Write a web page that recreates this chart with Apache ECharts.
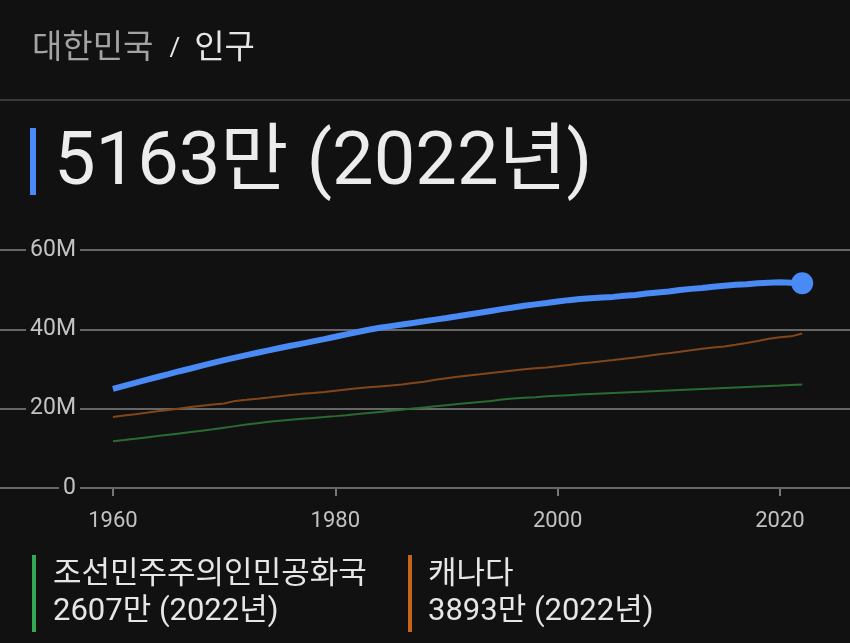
<!DOCTYPE html>
<html><head><meta charset="utf-8">
<script src="https://cdn.jsdelivr.net/npm/echarts@6/dist/echarts.min.js"></script>
<style>html,body{margin:0;padding:0;background:#111111;}#c{width:850px;height:643px;}</style>
</head><body><div id="c"></div>
<script>
const years = [];
for (let y = 1960; y <= 2022; y++) years.push(y);
// Population in millions
const southKorea = [25.01,25.77,26.51,27.26,27.98,28.70,29.44,30.13,30.84,31.54,
32.24,32.88,33.51,34.10,34.69,35.28,35.85,36.41,36.97,37.53,
38.12,38.72,39.33,39.91,40.41,40.81,41.21,41.62,42.03,42.45,
42.87,43.30,43.75,44.19,44.64,45.09,45.52,45.95,46.29,46.62,
47.01,47.36,47.62,47.86,48.04,48.18,48.44,48.68,49.05,49.31,
49.55,49.94,50.20,50.43,50.75,51.01,51.22,51.36,51.59,51.76,
51.84,51.77,51.63];
const canada = [17.91,18.27,18.61,18.96,19.33,19.68,20.05,20.41,20.74,21.03,
21.32,21.96,22.22,22.49,22.81,23.14,23.45,23.73,23.96,24.20,
24.52,24.82,25.12,25.37,25.61,25.84,26.10,26.45,26.79,27.28,
27.69,28.04,28.37,28.68,29.00,29.30,29.61,29.91,30.16,30.40,
30.69,31.02,31.36,31.64,31.94,32.24,32.57,32.89,33.25,33.63,
34.00,34.34,34.71,35.08,35.44,35.70,36.11,36.55,37.07,37.60,
38.01,38.23,38.93];
const northKorea = [11.80,12.10,12.42,12.75,13.08,13.42,13.76,14.10,14.45,14.80,
15.20,15.60,16.00,16.35,16.68,16.95,17.20,17.43,17.65,17.88,
18.12,18.37,18.63,18.90,19.18,19.46,19.74,20.03,20.32,20.60,
20.88,21.15,21.42,21.68,21.92,22.30,22.55,22.75,22.90,23.10,
23.25,23.40,23.55,23.70,23.83,23.96,24.09,24.22,24.35,24.48,
24.61,24.73,24.85,24.97,25.09,25.21,25.33,25.45,25.57,25.69,
25.81,25.94,26.07];
const xTicks = [1960, 1980, 2000, 2020];
const yTicks = [0, 20, 40, 60];
const titleCountry = '대한민국';
const titleMetric = '인구';
const headline = '5163만 (2022년)';
const legendItems = [
  {name: '조선민주주의인민공화국', value: '2607만 (2022년)'},
  {name: '캐나다', value: '3893만 (2022년)'}
];

const pairs = arr => arr.map((v, i) => [years[i], v]);
const FONT = "Roboto, 'Noto Sans CJK KR', sans-serif";
const chart = echarts.init(document.getElementById('c'));
chart.setOption({
  backgroundColor: '#111111',
  animation: false,
  grid: {left: 0, right: 0, top: 250, bottom: 155},
  xAxis: {
    type: 'value', min: 1949.84, max: 2026.3,
    axisLine: {show: false},
    splitLine: {show: false},
    axisTick: {show: true, customValues: xTicks, length: 8, lineStyle: {color: '#777', width: 2}},
    axisLabel: {customValues: xTicks, color: '#c2c2c2', fontSize: 22, fontFamily: FONT, margin: 22,
      formatter: v => String(v)}
  },
  yAxis: {
    type: 'value', min: yTicks[0], max: yTicks[yTicks.length - 1], interval: 20,
    axisLine: {show: false}, axisTick: {show: false},
    splitLine: {lineStyle: {color: '#666', width: 2}},
    axisLabel: {
      inside: true, align: 'right', margin: 80,
      color: '#c2c2c2', fontSize: 23, fontFamily: FONT,
      backgroundColor: '#111111', padding: [2, 4, 2, 4],
      formatter: v => v === 0 ? '0' : v + 'M'
    },
    z: 1
  },
  series: [
    {type: 'line', data: pairs(northKorea), symbol: 'none', lineStyle: {color: '#2a6b33', width: 2}, z: 2},
    {type: 'line', data: pairs(canada), symbol: 'none', lineStyle: {color: '#83461a', width: 2}, z: 2},
    {type: 'line', data: pairs(southKorea), symbol: (v, p) => p.dataIndex === southKorea.length - 1 ? 'circle' : 'none',
      symbolSize: 22, showAllSymbol: true, itemStyle: {color: '#4a8af4'},
      lineStyle: {color: '#4a8af4', width: 6}, z: 3}
  ],
  graphic: [
    {type: 'text', left: 32, top: 33, style: {
      text: '{a|' + titleCountry + '}{s|/}{b|' + titleMetric + '}',
      rich: {
        a: {fill: '#a3a3a3', fontSize: 33, fontFamily: FONT},
        s: {fill: '#e6e6e6', fontSize: 26, fontFamily: FONT, padding: [0, 14, 0, 16]},
        b: {fill: '#e6e6e6', fontSize: 33, fontFamily: FONT}
      }}},
    {type: 'rect', left: 0, top: 99, shape: {width: 850, height: 2}, style: {fill: '#3a3a3a'}},
    {type: 'rect', left: 30, top: 128, shape: {width: 6, height: 67}, style: {fill: '#4a8af4'}},
    {type: 'text', left: 54, top: 129, style: {text: headline, fill: '#ececec', fontSize: 74, fontFamily: FONT}},
    {type: 'rect', left: 32, top: 555, shape: {width: 4, height: 77}, style: {fill: '#34a853'}},
    {type: 'text', left: 53, top: 560, style: {text: legendItems[0].name, fill: '#e6e6e6', fontSize: 31, fontFamily: FONT}},
    {type: 'text', left: 53, top: 597, style: {text: legendItems[0].value, fill: '#e6e6e6', fontSize: 31, fontFamily: FONT}},
    {type: 'rect', left: 408, top: 555, shape: {width: 4, height: 77}, style: {fill: '#c5651c'}},
    {type: 'text', left: 428, top: 560, style: {text: legendItems[1].name, fill: '#e6e6e6', fontSize: 31, fontFamily: FONT}},
    {type: 'text', left: 428, top: 597, style: {text: legendItems[1].value, fill: '#e6e6e6', fontSize: 31, fontFamily: FONT}}
  ]
});
</script></body></html>
